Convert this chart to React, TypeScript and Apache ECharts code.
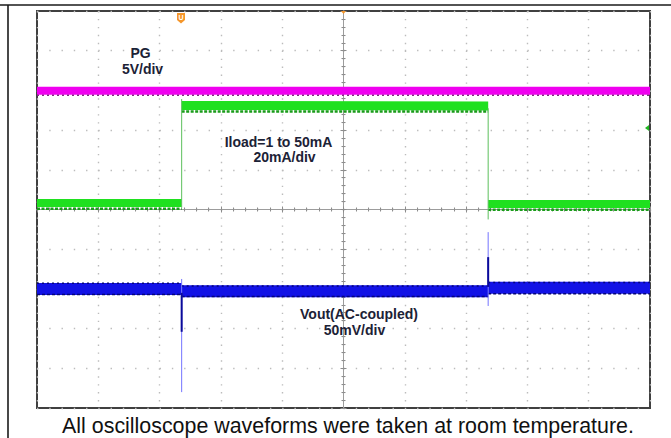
import React, { useEffect, useRef } from "react";
import * as echarts from "echarts";

// Screen in oscilloscope divisions: 10 x 10, centre = 0
const timeRange = [-5, 5];
const levelRange = [-5, 5];

// PG trace (5V/div)
const pgLevel = [[-5, 2.99], [5, 2.99]];
const pgNoiseEdge = [[-5, 2.88], [5, 2.88]];

// Iload trace (20mA/div), 1mA -> 50mA -> 1mA
const loadLow1 = [[-5, 0.165], [-2.64, 0.165]];
const loadHigh = [[-2.64, 2.62], [2.36, 2.61]];
const loadLow2 = [[2.36, 0.14], [5, 0.14]];
const loadLowEdge1 = [[-5, 0.02], [-2.64, 0.02]];
const loadHighEdge = [[-2.64, 2.47], [2.36, 2.47]];
const loadLowEdge2 = [[2.36, -0.005], [5, -0.005]];
const loadRise = [[-2.64, 0.05], [-2.64, 2.78]];
const loadFall = [[2.36, 2.55], [2.36, -0.25]];

// Vout trace (AC-coupled, 50mV/div)
const voutBefore = [[-5, -2.0], [-2.64, -2.0]];
const voutDuring = [[-2.64, -2.06], [2.36, -2.06]];
const voutAfter = [[2.36, -1.97], [5, -1.97]];
const voutTopEdge1 = [[-5, -1.86], [-2.64, -1.86]];
const voutBotEdge1 = [[-5, -2.14], [-2.64, -2.14]];
const voutTopEdge2 = [[-2.64, -1.93], [2.36, -1.93]];
const voutBotEdge2 = [[-2.64, -2.19], [2.36, -2.19]];
const voutTopEdge3 = [[2.36, -1.84], [5, -1.84]];
const voutBotEdge3 = [[2.36, -2.12], [5, -2.12]];
const voutDipThin = [[-2.64, -1.75], [-2.64, -4.6]];
const voutDipCore = [[-2.64, -2.1], [-2.64, -3.08]];
const voutPeakThin = [[2.36, -0.57], [2.36, -2.43]];
const voutPeakCore = [[2.36, -1.2], [2.36, -1.95]];

const labelFont = 'bold 14px "Liberation Sans", Arial, sans-serif';
const labelColor = "#1c2236";

function trace(data: number[][], color: string, width: number, z: number, type: any = "solid") {
  return {
    type: "line",
    data,
    symbol: "none",
    showSymbol: false,
    silent: true,
    animation: false,
    clip: true,
    z,
    emphasis: { disabled: true },
    lineStyle: { color, width, type, cap: "butt" },
  };
}

function xAxisCfg(position: string, grid: boolean) {
  return {
    type: "value",
    min: timeRange[0],
    max: timeRange[1],
    interval: 1,
    position,
    axisLine: { show: true, onZero: true, lineStyle: { color: "#9c9c9c", width: 1 } },
    axisTick: { show: true, inside: true, length: 3, lineStyle: { color: "#8c8c8c", width: 1 } },
    minorTick: { show: true, splitNumber: 5, length: 2, lineStyle: { color: "#8c8c8c", width: 1 } },
    axisLabel: { show: false },
    splitLine: {
      show: grid,
      lineStyle: { color: "#bcbcbc", width: 1.4, type: [1.4, 6.54] },
    },
    minorSplitLine: { show: false },
  };
}

function yAxisCfg(position: string, grid: boolean) {
  return {
    type: "value",
    min: levelRange[0],
    max: levelRange[1],
    interval: 1,
    position,
    axisLine: { show: true, onZero: true, lineStyle: { color: "#9c9c9c", width: 1 } },
    axisTick: { show: true, inside: true, length: 3, lineStyle: { color: "#8c8c8c", width: 1 } },
    minorTick: { show: true, splitNumber: 5, length: 2, lineStyle: { color: "#8c8c8c", width: 1 } },
    axisLabel: { show: false },
    splitLine: {
      show: grid,
      lineStyle: { color: "#bcbcbc", width: 1.4, type: [1.4, 10.86] },
    },
    minorSplitLine: { show: false },
  };
}

function txt(text: string, x: number, y: number, font = labelFont, fill = labelColor) {
  return {
    type: "text",
    x,
    y,
    z: 100,
    silent: true,
    style: { text, font, fill, textAlign: "center", textVerticalAlign: "middle", verticalAlign: "middle" },
  };
}

export default function App() {
  const ref = useRef<HTMLDivElement>(null);
  useEffect(() => {
    if (!ref.current) return;
    const chart = echarts.init(ref.current, null, { renderer: "svg" });
    const option: any = {
      animation: false,
      backgroundColor: "#ffffff",
      grid: {
        left: 37,
        top: 11,
        width: 613,
        height: 397,
        show: true,
        borderColor: "#404040",
        borderWidth: 2,
        backgroundColor: "transparent",
        containLabel: false,
        outerBoundsMode: "none",
      },
      xAxis: [xAxisCfg("bottom", true), xAxisCfg("top", false)],
      yAxis: [yAxisCfg("left", true), yAxisCfg("right", false)],
      series: [
        trace(pgLevel, "#f000f0", 8, 10),
        trace(pgNoiseEdge, "#8a1f8a", 1.5, 11, [2, 3]),

        trace(loadLow1, "#1fe01f", 8, 10),
        trace(loadHigh, "#1fe01f", 9, 10),
        trace(loadLow2, "#1fe01f", 8, 10),
        trace(loadLowEdge1, "#1a9c1a", 2.5, 11, [3, 1.5]),
        trace(loadHighEdge, "#1a9c1a", 2.5, 11, [3, 1.5]),
        trace(loadLowEdge2, "#1a9c1a", 2.5, 11, [3, 1.5]),
        trace(loadRise, "#5cbf5c", 1, 12),
        trace(loadFall, "#5cbf5c", 1, 12),

        trace(voutBefore, "#1212e6", 12, 10),
        trace(voutDuring, "#1212e6", 12, 10),
        trace(voutAfter, "#1212e6", 12, 10),
        trace(voutTopEdge1, "#05057a", 1.5, 11, [2, 3]),
        trace(voutBotEdge1, "#05057a", 1.5, 11, [3, 2]),
        trace(voutTopEdge2, "#05057a", 1.5, 11, [2, 3]),
        trace(voutBotEdge2, "#05057a", 1.5, 11, [3, 2]),
        trace(voutTopEdge3, "#05057a", 1.5, 11, [2, 3]),
        trace(voutBotEdge3, "#05057a", 1.5, 11, [3, 2]),
        trace(voutDipThin, "#7474ff", 1, 12),
        trace(voutDipCore, "#0a0a9a", 2, 13),
        trace(voutPeakThin, "#7474ff", 1, 12),
        trace(voutPeakCore, "#0a0a9a", 2, 13),
      ],
      graphic: [
        { type: "line", silent: true, z: 100, shape: { x1: 0, y1: 5, x2: 671, y2: 5 }, style: { stroke: "#1a1a1a", lineWidth: 1.6 } },
        { type: "line", silent: true, z: 100, shape: { x1: 8, y1: 5, x2: 8, y2: 438 }, style: { stroke: "#1a1a1a", lineWidth: 1.6 } },
        // trigger position marker
        {
          type: "polygon",
          silent: true,
          z: 100,
          shape: { points: [[177, 13], [185, 13], [185, 20], [181, 23.5], [177, 20]] },
          style: { fill: "#f5962a" },
        },
        txt("U", 181, 17.5, 'bold 7px "Liberation Sans", Arial, sans-serif', "#ffffff"),
        // trigger level / centre marker
        { type: "polygon", silent: true, z: 100, shape: { points: [[341, 11], [346, 11], [343.5, 14]] }, style: { fill: "#f5962a" } },
        // channel marker
        { type: "polygon", silent: true, z: 100, shape: { points: [[645, 128], [649, 125], [649, 131]] }, style: { fill: "#22b822" } },

        txt("PG", 140.5, 52.5),
        txt("5V/div", 142.5, 69),
        txt("Iload=1 to 50mA", 278.5, 141.5),
        txt("20mA/div", 284.5, 157),
        txt("Vout(AC-coupled)", 359, 314),
        txt("50mV/div", 354.5, 329.5),
        txt(
          "All oscilloscope waveforms were taken at room temperature.",
          348,
          425.5,
          '21.4px "Liberation Sans", Arial, sans-serif',
          "#111111"
        ),
      ],
    };
    chart.setOption(option);
    return () => chart.dispose();
  }, []);
  return (
    <div
      ref={ref}
      style={{ position: "fixed", left: 0, top: 0, width: 671, height: 438, background: "#ffffff" }}
    />
  );
}
